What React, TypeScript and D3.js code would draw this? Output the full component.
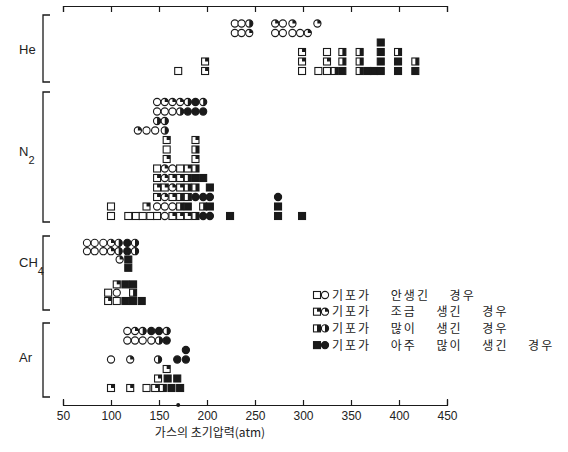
import React, { useEffect, useRef } from 'react';
import * as d3 from 'd3';

const xTicks = [50, 100, 150, 200, 250, 300, 350, 400, 450];
const axisDots = [170];
const gases = ['He', 'N', 'CH', 'Ar'];
const gasSubs = ['', '2', '4', ''];
const legendLabels = [
  '기포가 안생긴 경우',
  '기포가 조금 생긴 경우',
  '기포가 많이 생긴 경우',
  '기포가 아주 많이 생긴 경우',
];
const xTitle = '가스의 초기압력(atm)';

// each mark: [pressure (atm), stack row, bubble level 0..3]
const heCircles = [
  [229, 5, 0], [236, 5, 0], [244, 5, 2], [271, 5, 1], [279, 5, 0], [289, 5, 1], [315, 5, 1],
  [229, 4, 0], [236, 4, 0], [244, 4, 1], [271, 4, 0], [279, 4, 0], [289, 4, 0], [297, 4, 0], [305, 4, 1],
];
const heSquares = [
  [170, 0, 0], [198, 0, 1], [198, 1, 1],
  [299, 0, 0], [299, 1, 1], [299, 2, 1],
  [316, 0, 0], [325, 0, 0], [325, 1, 1], [325, 2, 0], [333, 0, 2], [341, 0, 3], [341, 1, 2], [341, 2, 2],
  [359, 0, 2], [359, 1, 2], [359, 2, 2], [367, 0, 3], [374, 0, 3],
  [381, 0, 3], [381, 1, 3], [381, 2, 3], [381, 3, 3],
  [399, 0, 3], [399, 1, 3], [399, 2, 2],
  [417, 0, 3], [417, 1, 2],
];
const n2Circles = [
  [148, 12, 0], [156, 12, 1], [164, 12, 1], [172, 12, 1], [180, 12, 2], [188, 12, 3], [196, 12, 2],
  [148, 11, 0], [156, 11, 0], [164, 11, 0], [172, 11, 2], [180, 11, 3], [188, 11, 3], [196, 11, 3],
  [148, 10, 2], [156, 10, 2],
  [128, 9, 1], [137, 9, 0], [146, 9, 0], [156, 9, 2],
  [156, 5, 1], [164, 5, 0], [156, 4, 1], [164, 3, 1], [156, 2, 1],
  [188, 2, 3], [196, 2, 3], [203, 2, 3], [274, 2, 3],
  [148, 1, 0], [156, 1, 0], [164, 1, 0],
  [156, 0, 0], [196, 0, 3], [203, 0, 3],
];
const n2Squares = [
  [158, 8, 1], [158, 7, 0], [158, 6, 1], [188, 8, 1], [188, 7, 2], [188, 6, 1],
  [148, 5, 0], [172, 5, 0], [180, 5, 1], [188, 5, 2],
  [148, 4, 1], [164, 4, 1], [172, 4, 1], [180, 4, 2], [188, 4, 3], [196, 4, 3],
  [148, 3, 1], [156, 3, 1], [172, 3, 1], [180, 3, 2], [188, 3, 2], [203, 3, 3],
  [148, 2, 1], [164, 2, 1], [172, 2, 2], [180, 2, 2],
  [100, 1, 0], [137, 1, 1], [172, 1, 2], [180, 1, 3], [196, 1, 2], [203, 1, 3], [274, 1, 3],
  [100, 0, 0], [118, 0, 0], [126, 0, 0], [133, 0, 0], [141, 0, 0], [148, 0, 0],
  [164, 0, 1], [172, 0, 1], [180, 0, 1], [188, 0, 2], [224, 0, 3], [274, 0, 3], [299, 0, 3],
];
const ch4Circles = [
  [75, 7, 0], [83, 7, 0], [92, 7, 0], [100, 7, 1], [108, 7, 2], [117, 7, 3], [125, 7, 2],
  [75, 6, 0], [83, 6, 0], [92, 6, 0], [100, 6, 1], [108, 6, 2], [117, 6, 3], [125, 6, 2],
  [109, 5, 1], [106, 1, 0],
];
const ch4Squares = [
  [118, 5, 3], [118, 4, 3],
  [106, 2, 1], [115, 2, 3], [123, 2, 3],
  [97, 1, 0], [123, 1, 2],
  [97, 0, 1], [106, 0, 0], [115, 0, 3], [123, 0, 3], [132, 0, 3],
];
const arCircles = [
  [117, 6, 0], [125, 6, 1], [133, 6, 2], [142, 6, 3], [150, 6, 3], [158, 6, 2],
  [117, 5, 0], [125, 5, 0], [133, 5, 0], [142, 5, 0], [150, 5, 2], [158, 5, 3],
  [100, 3, 0], [120, 3, 1], [149, 3, 2], [169, 3, 3], [178, 3, 3], [178, 4, 3],
];
const arSquares = [
  [158, 2, 1],
  [149, 1, 1], [159, 1, 3], [169, 1, 3],
  [100, 0, 1], [120, 0, 1], [137, 0, 0], [146, 0, 1], [154, 0, 2], [163, 0, 3], [172, 0, 3],
];

const ink = '#1a1a1a';

const App = () => {
  const ref = useRef<SVGSVGElement>(null);

  useEffect(() => {
    const svg = d3.select(ref.current);
    svg.selectAll('*').remove();

    const x = d3.scaleLinear().domain([50, 450]).range([63, 447]);

    // panel layout: bracket extent and row spacing
    const panels = [
      { top: 15, bottom: 82, row0: 71, step: 9.5, circles: heCircles, squares: heSquares, ly: 54 },
      { top: 92, bottom: 222, row0: 216, step: 9.5, circles: n2Circles, squares: n2Squares, ly: 156 },
      { top: 236, bottom: 310, row0: 301, step: 8.3, circles: ch4Circles, squares: ch4Squares, ly: 267 },
      { top: 323, bottom: 397, row0: 388, step: 9.5, circles: arCircles, squares: arSquares, ly: 362 },
    ];

    const r = 3.6;
    const s = 7;
    const arc = d3.arc().innerRadius(0).outerRadius(r).startAngle(0);

    const drawCircle = (g, cx, cy, level) => {
      const m = g.append('g').attr('transform', `translate(${cx},${cy})`);
      m.append('circle').attr('r', r)
        .attr('fill', level === 3 ? ink : '#fff')
        .attr('stroke', ink).attr('stroke-width', 1.1);
      if (level === 1 || level === 2) {
        m.append('path').attr('d', arc({ endAngle: (Math.PI / 2) * level }))
          .attr('fill', ink);
      }
    };

    const drawSquare = (g, cx, cy, level) => {
      const m = g.append('g').attr('transform', `translate(${cx},${cy})`);
      m.append('rect').attr('x', -s / 2).attr('y', -s / 2)
        .attr('width', s).attr('height', s)
        .attr('fill', level === 3 ? ink : '#fff')
        .attr('stroke', ink).attr('stroke-width', 1.1);
      if (level === 1) {
        m.append('rect').attr('x', 0).attr('y', -s / 2)
          .attr('width', s / 2).attr('height', s / 2).attr('fill', ink);
      } else if (level === 2) {
        m.append('rect').attr('x', 0).attr('y', -s / 2)
          .attr('width', s / 2).attr('height', s).attr('fill', ink);
      }
    };

    // axes
    const bottomAxis = d3.axisBottom(x).tickValues(xTicks)
      .tickSizeInner(-5).tickSizeOuter(-6).tickPadding(6);
    const gb = svg.append('g')
      .attr('transform', 'translate(0,405)')
      .call(bottomAxis);
    gb.attr('font-size', 12).attr('font-family', '"Liberation Sans", Arial, sans-serif');
    gb.selectAll('path, line').attr('stroke', ink).attr('stroke-width', 1.2);
    gb.selectAll('text').attr('fill', '#222');

    const topAxis = d3.axisTop(x).tickValues(xTicks)
      .tickSizeInner(-6).tickSizeOuter(-6).tickFormat(() => '');
    const gt = svg.append('g')
      .attr('transform', 'translate(0,6)')
      .call(topAxis);
    gt.selectAll('path, line').attr('stroke', ink).attr('stroke-width', 1.2);

    svg.selectAll('.axis-dot')
      .data(axisDots)
      .enter()
      .append('circle')
      .attr('cx', d => x(d))
      .attr('cy', 405)
      .attr('r', 2)
      .attr('fill', ink);

    svg.append('text')
      .attr('x', 210)
      .attr('y', 437)
      .attr('text-anchor', 'middle')
      .attr('font-size', 12)
      .attr('font-family', '"Noto Sans CJK KR", sans-serif')
      .attr('fill', '#222')
      .text(xTitle);

    // panels
    panels.forEach((p, i) => {
      const y = d3.scaleLinear().domain([0, 1]).range([p.row0, p.row0 - p.step]);
      const g = svg.append('g');

      g.append('path')
        .attr('d', `M50,${p.top}H43V${p.bottom}H50`)
        .attr('fill', 'none')
        .attr('stroke', ink)
        .attr('stroke-width', 1.3);

      const label = g.append('text')
        .attr('x', 19)
        .attr('y', p.ly)
        .attr('font-size', 13)
        .attr('font-family', '"Liberation Sans", Arial, sans-serif')
        .attr('fill', '#222')
        .text(gases[i]);
      if (gasSubs[i]) {
        label.append('tspan')
          .attr('dy', 8)
          .attr('font-size', 11)
          .text(gasSubs[i]);
      }

      p.squares.forEach(d => drawSquare(g, x(d[0]), y(d[1]), d[2]));
      p.circles.forEach(d => drawCircle(g, x(d[0]), y(d[1]), d[2]));
    });

    // legend
    const legend = svg.append('g').attr('transform', 'translate(317,295)');
    legendLabels.forEach((label, i) => {
      drawSquare(legend, 0, i * 16.7, i);
      drawCircle(legend, 8, i * 16.7, i);
      legend.append('text')
        .attr('x', 15)
        .attr('y', i * 16.7 + 4.5)
        .attr('font-size', 12)
        .attr('font-family', '"Noto Sans CJK KR", sans-serif')
        .attr('fill', '#222')
        .style('letter-spacing', '2px')
        .style('word-spacing', '15px')
        .text(label);
    });
  }, []);

  return (
    <svg
      ref={ref}
      width={568}
      height={452}
      style={{ position: 'absolute', left: 0, top: 0, background: '#fff' }}
    />
  );
};

export default App;
